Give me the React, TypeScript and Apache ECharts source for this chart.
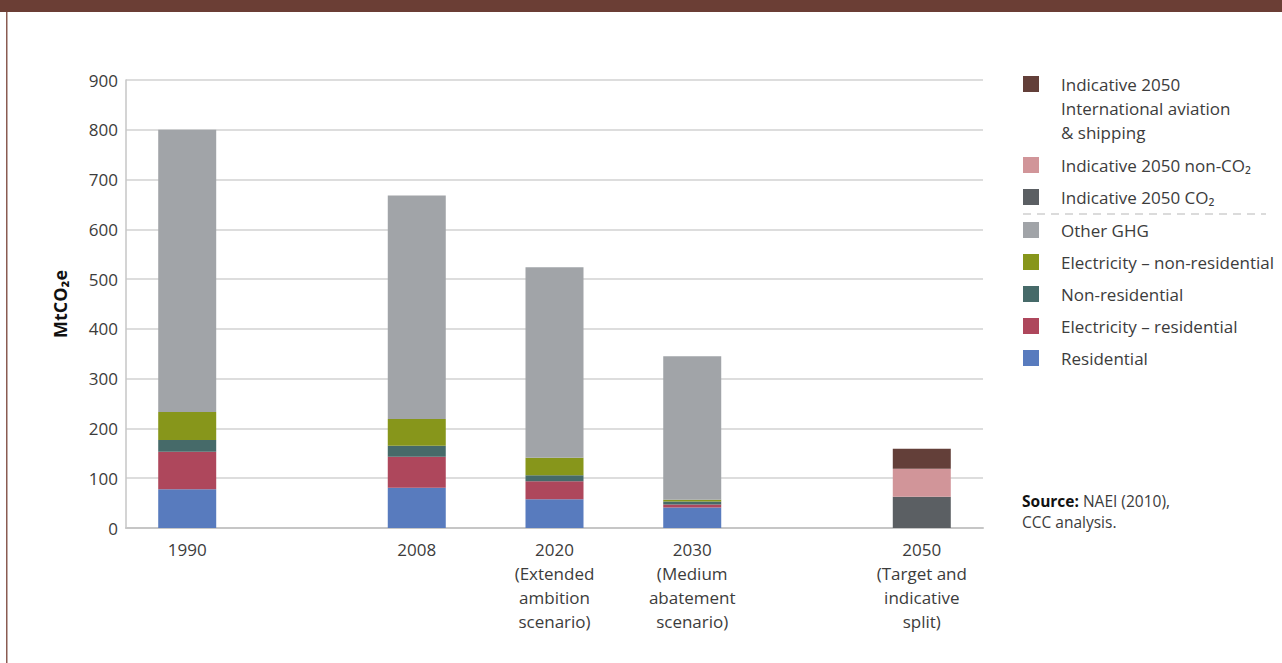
import React, { useEffect, useRef } from "react";
import * as echarts from "echarts";

// ---- data ----
const yearLabels = [
  "1990",
  "2008",
  "2020\n(Extended\nambition\nscenario)",
  "2030\n(Medium\nabatement\nscenario)",
  "2050\n(Target and\nindicative\nsplit)",
];
const residential = [78, 81, 58, 41, null];
const elecResidential = [75, 62, 36, 6, null];
const nonResidential = [24, 22, 12, 6, null];
const elecNonResidential = [56, 54, 35, 4, null];
const otherGHG = [567, 449, 383, 288, null];
const co2_2050 = [null, null, null, null, 63];
const nonCo2_2050 = [null, null, null, null, 56];
const aviation_2050 = [null, null, null, null, 40];
const yTicks = [0, 100, 200, 300, 400, 500, 600, 700, 800, 900];

// ---- layout (category slots so bars keep the original uneven spacing) ----
const slotIndex = [8, 38, 56, 74, 104];
const slotCount = 113;

const FONT = "'Open Sans', 'Noto Sans', sans-serif";
const TEXT = "#3c3c3c";

const seriesDefs = [
  { name: "Residential", data: residential, color: "#587bbe" },
  { name: "Electricity – residential", data: elecResidential, color: "#ae475c" },
  { name: "Non-residential", data: nonResidential, color: "#466a69" },
  { name: "Electricity – non-residential", data: elecNonResidential, color: "#87961b" },
  { name: "Other GHG", data: otherGHG, color: "#a1a4a8" },
  { name: "Indicative 2050 CO₂", data: co2_2050, color: "#5b5f63" },
  { name: "Indicative 2050 non-CO₂", data: nonCo2_2050, color: "#d19599" },
  { name: "Indicative 2050\nInternational aviation\n& shipping", data: aviation_2050, color: "#633f39" },
];

function toSlots(values: (number | null)[]) {
  const arr: any[] = Array(slotCount).fill("-");
  values.forEach((v, i) => {
    if (v !== null) arr[slotIndex[i]] = v;
  });
  return arr;
}

export default function App() {
  const ref = useRef<HTMLDivElement>(null);
  useEffect(() => {
    if (!ref.current) return;
    const chart = echarts.init(ref.current, null, { renderer: "svg" });
    const categories = Array.from({ length: slotCount }, (_, i) => "s" + i);
    const labelMap: Record<number, string> = {};
    slotIndex.forEach((s, i) => (labelMap[s] = yearLabels[i]));

    // legend (drawn with graphic, top = last series)
    const legendOrder = [7, 6, 5, 4, 3, 2, 1, 0];
    const legendY = [76, 157, 189, 222, 254, 286, 318, 350];
    const legendEls: any[] = [];
    legendOrder.forEach((si, k) => {
      const d = seriesDefs[si];
      legendEls.push({
        type: "rect",
        shape: { x: 1023, y: legendY[k], width: 16, height: 16 },
        style: { fill: d.color },
      });
      legendEls.push({
        type: "text",
        x: 1061,
        y: legendY[k] + 8,
        style: {
          text: d.name,
          font: `17px ${FONT}`,
          fill: TEXT,
          verticalAlign: "middle",
          lineHeight: 24,
        },
      });
    });
    // multi-line first item: align first line with icon
    legendEls[1].y = 76 - 4;
    legendEls[1].style.verticalAlign = "top";

    chart.setOption({
      animation: false,
      grid: { left: 126, top: 80, right: 299, bottom: 135, containLabel: false },
      xAxis: {
        type: "category",
        data: categories,
        boundaryGap: false,
        axisLine: { show: true, lineStyle: { color: "#c6c6c6", width: 2 } },
        axisTick: { show: false },
        axisLabel: {
          interval: 0,
          margin: 9,
          formatter: (_v: string, idx: number) => labelMap[idx] ?? "",
          fontFamily: FONT,
          fontSize: 17,
          color: TEXT,
          lineHeight: 24,
          align: "center",
        },
        splitLine: { show: false },
      },
      yAxis: {
        type: "value",
        min: yTicks[0],
        max: yTicks[yTicks.length - 1],
        interval: 100,
        name: "MtCO₂e",
        nameLocation: "middle",
        nameGap: 57,
        nameTextStyle: { fontFamily: FONT, fontSize: 18, fontWeight: "bold", color: "#111" },
        axisLine: { show: true, lineStyle: { color: "#c6c6c6", width: 1.5 } },
        axisTick: { show: false },
        axisLabel: { fontFamily: FONT, fontSize: 17, color: TEXT, margin: 8 },
        splitLine: { show: true, lineStyle: { color: "#d2d2d2", width: 1.5 } },
      },
      series: seriesDefs.map((d) => ({
        name: d.name,
        type: "bar",
        stack: "total",
        barWidth: 58,
        data: toSlots(d.data),
        itemStyle: { color: d.color },
      })),
      graphic: [
        { type: "rect", shape: { x: 0, y: 0, width: 1282, height: 12 }, style: { fill: "#6b3e35" } },
        { type: "rect", shape: { x: 6, y: 12, width: 1.5, height: 651 }, style: { fill: "#8a5c52" } },
        {
          type: "line",
          shape: { x1: 1023, y1: 214, x2: 1266, y2: 214 },
          style: { stroke: "#b8b8b8", lineWidth: 1.2, lineDash: [8, 6] },
        },
        ...legendEls,
        {
          type: "text",
          x: 1022,
          y: 490,
          style: {
            text: "{b|Source:} NAEI (2010),\nCCC analysis.",
            font: `15.5px ${FONT}`,
            fill: TEXT,
            lineHeight: 21,
            rich: {
              b: { fontFamily: FONT, fontSize: 15.5, fontWeight: "bold", fill: "#111", lineHeight: 21 },
            },
          },
        },
      ],
    });
    return () => chart.dispose();
  }, []);
  return (
    <div
      ref={ref}
      style={{ position: "fixed", left: 0, top: 0, width: 1282, height: 663, background: "#fff" }}
    />
  );
}
